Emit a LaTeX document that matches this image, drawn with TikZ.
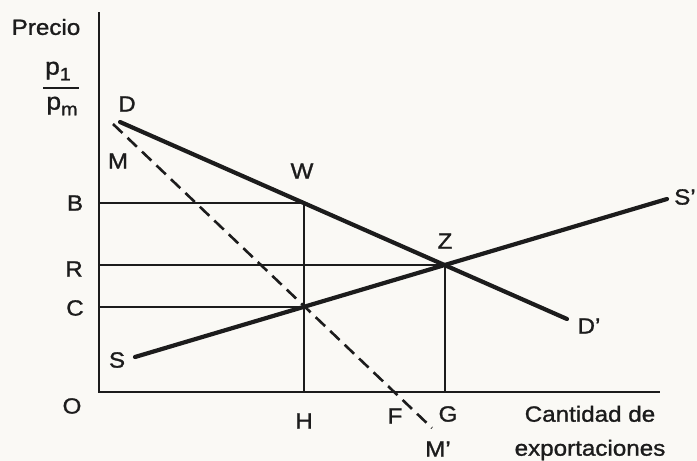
\documentclass[tikz,border=0pt]{standalone}
\usepackage{fontspec}
\setmainfont[FakeStretch=1.1,FakeBold=1.2]{Liberation Sans}
\usetikzlibrary{calc}
\definecolor{Ink}{RGB}{28,28,28}
\definecolor{Paper}{RGB}{250,249,245}
\newcommand{\lowsub}[1]{\raisebox{-0.45ex}{\fontsize{18}{18}\selectfont #1}}
\tikzset{
  axis/.style={draw=Ink,line width=2.4pt},
  guide/.style={draw=Ink,line width=2pt},
  curve/.style={draw=Ink,line width=4.2pt,line cap=round},
  mline/.style={draw=Ink,line width=2.6pt,dash pattern=on 13pt off 7pt},
  lbl/.style={text=Ink,inner sep=0pt,font=\fontsize{22}{34}\selectfont}
}

\begin{document}
\begin{tikzpicture}[x=1pt,y=-1pt]

\fill[Paper] (0,0) rectangle (697,461);
\useasboundingbox (0,0) rectangle (697,461);

% Points
\coordinate (O) at (99,392);
\coordinate (ytop) at (99,12);
\coordinate (xend) at (660,392);
\coordinate (D) at (120,122);
\coordinate (Dp) at (567,319);
\coordinate (S) at (135,357);
\coordinate (Sp) at (667,199);
\coordinate (M) at (113,124);
\coordinate (Mp) at (432,428);
\coordinate (W) at (304,203);
\coordinate (Z) at (445,265);
\coordinate (X) at (304,307);

% Axes
\draw[axis] (ytop) -- (O) -- (xend);

% Guides
\draw[guide] (O |- W) -- (W) -- (O -| W);
\draw[guide] (O |- Z) -- (Z) -- (O -| Z);
\draw[guide] (O |- X) -- (X);

% Curves
\draw[curve] (D) -- (Dp);
\draw[curve] (S) -- (Sp);
\draw[mline] (M) -- (Mp);

% Labels
\node[lbl] (precio) at (46,27) {Precio};
\node[lbl,font=\fontsize{24}{28}\selectfont] (p1) at (58,71) {p\lowsub{1}};
\node[lbl,font=\fontsize{24}{28}\selectfont] (pm) at (62,106) {p\lowsub{m}};
\draw[guide] (43,88) -- (79,88);

\node[lbl] (lD) at (127,104) {D};
\node[lbl] (lM) at (118,161) {M};
\node[lbl] (lW) at (302,171) {W};
\node[lbl] (lB) at (75,203) {B};
\node[lbl] (lR) at (74,269) {R};
\node[lbl] (lC) at (75,308) {C};
\node[lbl] (lS) at (117,360) {S};
\node[lbl] (lO) at (72,406) {O};
\node[lbl] (lH) at (304,421) {H};
\node[lbl] (lF) at (395,416) {F};
\node[lbl] (lG) at (448,414) {G};
\node[lbl] (lMp) at (438,449) {M'};
\node[lbl] (lZ) at (445,241) {Z};
\node[lbl] (lDp) at (589,326) {D'};
\node[lbl,anchor=west] (lSp) at (674,197) {S'};
\node[lbl,align=center] (qty) at (590,433) {Cantidad de\\exportaciones};

\end{tikzpicture}
\end{document}
